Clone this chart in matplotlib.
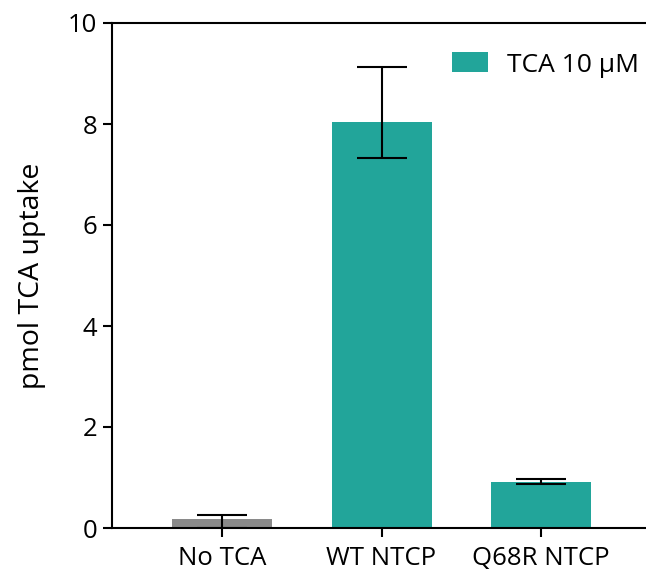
import matplotlib
matplotlib.use("Agg")
import matplotlib.pyplot as plt
import numpy as np
from matplotlib.patches import Patch

plt.rcParams['font.family'] = ['Open Sans', 'DejaVu Sans']

categories = ["No TCA", "WT NTCP", "Q68R NTCP"]
values = [0.17, 8.03, 0.92]
err_low = [0.17, 0.70, 0.055]
err_high = [0.09, 1.10, 0.06]
bar_colors = ["#8a8a8a", "#22a59a", "#22a59a"]
legend_label = "TCA 10 µM"
y_ticks = [0, 2, 4, 6, 8, 10]
y_label = "pmol TCA uptake"

fig = plt.figure(figsize=(6.46, 5.72), dpi=100)
ax = fig.add_axes([112/646, 44/572, 534/646, 505/572])

x = np.arange(len(categories))
ax.bar(x, values, width=0.627, color=bar_colors, zorder=2)
ax.errorbar(x, values, yerr=[err_low, err_high], fmt='none', ecolor='black',
            elinewidth=1.5, capsize=18, capthick=1.5, zorder=3)

ax.set_xlim(-0.69, 2.658)
ax.set_ylim(0, 10)
ax.set_yticks(y_ticks)
ax.set_xticks(x)
ax.set_xticklabels(categories)
ax.set_ylabel(y_label, fontsize=20.5, labelpad=16)

for s in ['left', 'bottom', 'top']:
    ax.spines[s].set_linewidth(1.5)
ax.spines['right'].set_visible(False)
ax.tick_params(axis='both', labelsize=18.5, width=1.5, length=6.5, pad=4)
ax.tick_params(axis='x', pad=6.5)

handle = Patch(facecolor="#22a59a", label=legend_label)
ax.legend(handles=[handle], loc='center left', bbox_to_anchor=(0.636, 0.917),
          frameon=False, fontsize=19, handlelength=1.36, handleheight=0.8,
          handletextpad=0.75, borderpad=0, borderaxespad=0)

fig.savefig("out.png", dpi=100)
